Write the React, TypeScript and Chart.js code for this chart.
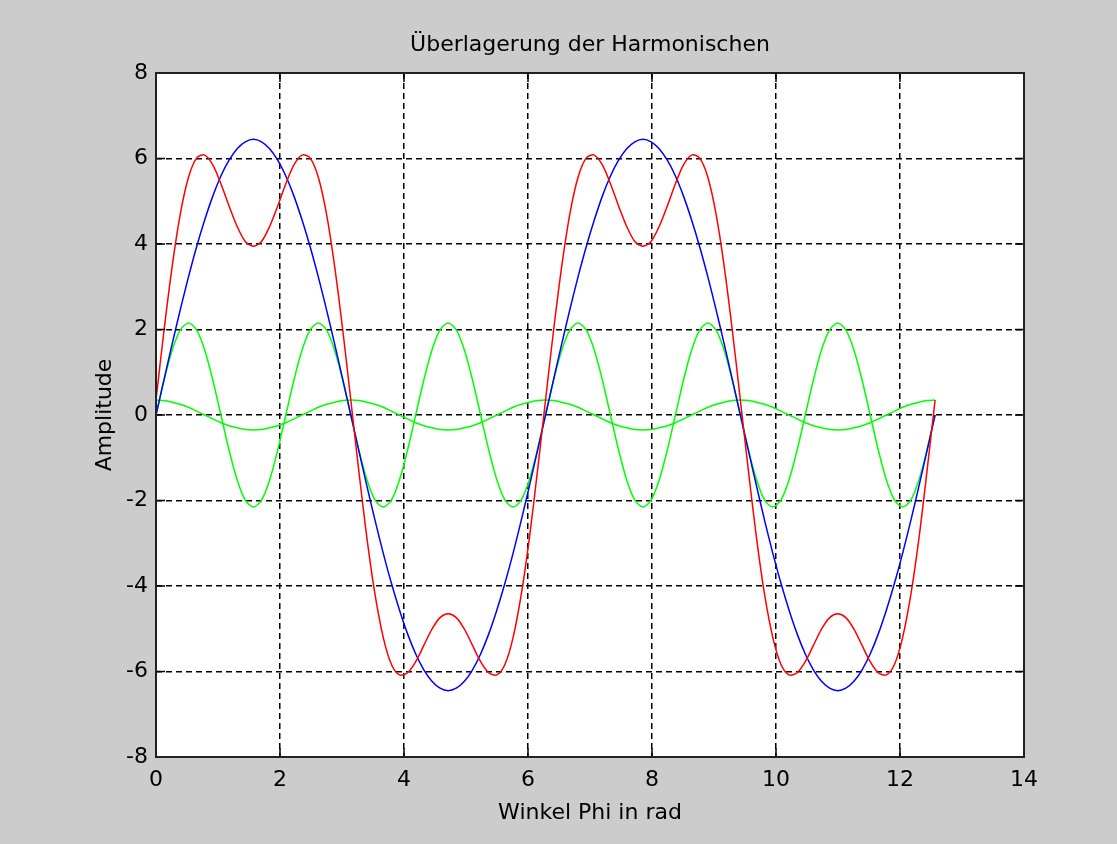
import React, { useEffect, useRef } from "react";
import { Chart, registerables } from "chart.js";

Chart.register(...registerables);

// Winkel Phi (rad)
const phi = [
  0, 0.131, 0.262, 0.393, 0.524, 0.654, 0.785, 0.916, 1.047, 1.178, 1.309, 1.44, 1.571, 1.702, 1.833, 1.963,
  2.094, 2.225, 2.356, 2.487, 2.618, 2.749, 2.88, 3.011, 3.142, 3.272, 3.403, 3.534, 3.665, 3.796, 3.927, 4.058,
  4.189, 4.32, 4.451, 4.581, 4.712, 4.843, 4.974, 5.105, 5.236, 5.367, 5.498, 5.629, 5.76, 5.89, 6.021, 6.152,
  6.283, 6.414, 6.545, 6.676, 6.807, 6.938, 7.069, 7.199, 7.33, 7.461, 7.592, 7.723, 7.854, 7.985, 8.116, 8.247,
  8.378, 8.508, 8.639, 8.77, 8.901, 9.032, 9.163, 9.294, 9.425, 9.556, 9.687, 9.817, 9.948, 10.079, 10.21, 10.341,
  10.472, 10.603, 10.734, 10.865, 10.996, 11.126, 11.257, 11.388, 11.519, 11.65, 11.781, 11.912, 12.043, 12.174,
  12.305, 12.435, 12.566,
];

// blue: Grundwelle
const grundwelle = [
  0, 0.84, 1.67, 2.47, 3.23, 3.93, 4.56, 5.12, 5.59, 5.96, 6.23, 6.39, 6.45, 6.39, 6.23, 5.96, 5.59, 5.12, 4.56, 3.93, 3.23, 2.47, 1.67, 0.84, 0,
  -0.84, -1.67, -2.47, -3.23, -3.93, -4.56, -5.12, -5.59, -5.96, -6.23, -6.39, -6.45, -6.39, -6.23, -5.96, -5.59, -5.12, -4.56, -3.93, -3.23, -2.47, -1.67, -0.84,
  0, 0.84, 1.67, 2.47, 3.23, 3.93, 4.56, 5.12, 5.59, 5.96, 6.23, 6.39, 6.45, 6.39, 6.23, 5.96, 5.59, 5.12, 4.56, 3.93, 3.23, 2.47, 1.67, 0.84, 0,
  -0.84, -1.67, -2.47, -3.23, -3.93, -4.56, -5.12, -5.59, -5.96, -6.23, -6.39, -6.45, -6.39, -6.23, -5.96, -5.59, -5.12, -4.56, -3.93, -3.23, -2.47, -1.67, -0.84,
  0,
];

// green: large harmonic
const harmonischeGross = [
  0, 0.82, 1.52, 1.99, 2.15, 1.99, 1.52, 0.82, 0, -0.82, -1.52, -1.99, -2.15, -1.99, -1.52, -0.82,
  0, 0.82, 1.52, 1.99, 2.15, 1.99, 1.52, 0.82, 0, -0.82, -1.52, -1.99, -2.15, -1.99, -1.52, -0.82,
  0, 0.82, 1.52, 1.99, 2.15, 1.99, 1.52, 0.82, 0, -0.82, -1.52, -1.99, -2.15, -1.99, -1.52, -0.82,
  0, 0.82, 1.52, 1.99, 2.15, 1.99, 1.52, 0.82, 0, -0.82, -1.52, -1.99, -2.15, -1.99, -1.52, -0.82,
  0, 0.82, 1.52, 1.99, 2.15, 1.99, 1.52, 0.82, 0, -0.82, -1.52, -1.99, -2.15, -1.99, -1.52, -0.82,
  0, 0.82, 1.52, 1.99, 2.15, 1.99, 1.52, 0.82, 0, -0.82, -1.52, -1.99, -2.15, -1.99, -1.52, -0.82,
  0,
];

// green: small harmonic
const harmonischeKlein = [
  0.35, 0.34, 0.3, 0.25, 0.18, 0.09, 0, -0.09, -0.18, -0.25, -0.3, -0.34, -0.35, -0.34, -0.3, -0.25, -0.18, -0.09, 0, 0.09, 0.18, 0.25, 0.3, 0.34,
  0.35, 0.34, 0.3, 0.25, 0.18, 0.09, 0, -0.09, -0.18, -0.25, -0.3, -0.34, -0.35, -0.34, -0.3, -0.25, -0.18, -0.09, 0, 0.09, 0.18, 0.25, 0.3, 0.34,
  0.35, 0.34, 0.3, 0.25, 0.18, 0.09, 0, -0.09, -0.18, -0.25, -0.3, -0.34, -0.35, -0.34, -0.3, -0.25, -0.18, -0.09, 0, 0.09, 0.18, 0.25, 0.3, 0.34,
  0.35, 0.34, 0.3, 0.25, 0.18, 0.09, 0, -0.09, -0.18, -0.25, -0.3, -0.34, -0.35, -0.34, -0.3, -0.25, -0.18, -0.09, 0, 0.09, 0.18, 0.25, 0.3, 0.34,
  0.35,
];

// red: Überlagerung (Summe)
const summe = [
  0.35, 2.0, 3.49, 4.71, 5.56, 6.01, 6.08, 5.85, 5.41, 4.89, 4.41, 4.06, 3.95, 4.06, 4.41, 4.89, 5.41, 5.85, 6.08, 6.01, 5.56, 4.71, 3.49, 2.0,
  0.35, -1.32, -2.89, -4.21, -5.2, -5.83, -6.08, -6.03, -5.77, -5.39, -5.01, -4.74, -4.65, -4.74, -5.01, -5.39, -5.77, -6.03, -6.08, -5.83, -5.2, -4.21, -2.89, -1.32,
  0.35, 2.0, 3.49, 4.71, 5.56, 6.01, 6.08, 5.85, 5.41, 4.89, 4.41, 4.06, 3.95, 4.06, 4.41, 4.89, 5.41, 5.85, 6.08, 6.01, 5.56, 4.71, 3.49, 2.0,
  0.35, -1.32, -2.89, -4.21, -5.2, -5.83, -6.08, -6.03, -5.77, -5.39, -5.01, -4.74, -4.65, -4.74, -5.01, -5.39, -5.77, -6.03, -6.08, -5.83, -5.2, -4.21, -2.89, -1.32,
  0.35,
];

const TITLE = "Überlagerung der Harmonischen";
const X_LABEL = "Winkel Phi in rad";
const Y_LABEL = "Amplitude";
const X_MIN = 0;
const X_MAX = 14;
const X_STEP = 2;
const Y_MIN = -8;
const Y_MAX = 8;
const Y_STEP = 2;

const FONT = "'DejaVu Sans', 'Liberation Sans', sans-serif";
const FONT_SIZE = 22;

const toPoints = (ys: number[]) => phi.map((x, i) => ({ x, y: ys[i] }));

const framePlugin = {
  id: "matlabFrame",
  beforeDraw(chart: any) {
    const { ctx, chartArea } = chart;
    const { left, top, right, bottom } = chartArea;
    ctx.save();
    ctx.fillStyle = "#cccccc";
    ctx.fillRect(0, 0, chart.width, chart.height);
    ctx.fillStyle = "#ffffff";
    ctx.fillRect(left, top, right - left, bottom - top);
    ctx.restore();
  },
  afterDraw(chart: any) {
    const { ctx, chartArea, scales } = chart;
    const { left, top, right, bottom } = chartArea;
    const len = 9;
    ctx.save();
    ctx.strokeStyle = "#000000";
    ctx.lineWidth = 1.5;
    ctx.setLineDash([]);
    ctx.beginPath();
    for (const t of scales.x.ticks) {
      const px = scales.x.getPixelForValue(t.value);
      ctx.moveTo(px, bottom);
      ctx.lineTo(px, bottom - len);
      ctx.moveTo(px, top);
      ctx.lineTo(px, top + len);
    }
    for (const t of scales.y.ticks) {
      const py = scales.y.getPixelForValue(t.value);
      ctx.moveTo(left, py);
      ctx.lineTo(left + len, py);
      ctx.moveTo(right, py);
      ctx.lineTo(right - len, py);
    }
    ctx.stroke();
    ctx.lineWidth = 2;
    ctx.strokeStyle = "#222222";
    ctx.strokeRect(left, top, right - left, bottom - top);
    // title, centred over the plot area
    ctx.fillStyle = "#000000";
    ctx.font = `normal ${FONT_SIZE}px ${FONT}`;
    ctx.textAlign = "center";
    ctx.textBaseline = "middle";
    ctx.fillText(TITLE, (left + right) / 2, top - 28);
    ctx.restore();
  },
};

export default function App() {
  const canvasRef = useRef<HTMLCanvasElement | null>(null);

  useEffect(() => {
    document.body.style.margin = "0";
    document.body.style.background = "#cccccc";
    const canvas = canvasRef.current;
    if (!canvas) return;
    const chart = new Chart(canvas, {
      type: "line",
      data: {
        datasets: [
          { label: "Summe", data: toPoints(summe), borderColor: "#ff0000" },
          { label: "Grundwelle", data: toPoints(grundwelle), borderColor: "#0000ff" },
          { label: "Harmonische 1", data: toPoints(harmonischeGross), borderColor: "#00ff00" },
          { label: "Harmonische 2", data: toPoints(harmonischeKlein), borderColor: "#00ff00" },
        ].map((d) => ({
          ...d,
          borderWidth: 1.5,
          pointRadius: 0,
          fill: false,
          tension: 0.3,
        })),
      },
      options: {
        animation: false,
        responsive: false,
        devicePixelRatio: 1,
        events: [],
        layout: { padding: { left: 0, right: 93, top: 73, bottom: 0 } },
        plugins: {
          legend: { display: false },
          tooltip: { enabled: false },
          title: { display: false },
        },
        scales: {
          x: {
            type: "linear",
            min: X_MIN,
            max: X_MAX,
            ticks: {
              stepSize: X_STEP,
              color: "#000000",
              font: { family: FONT, size: FONT_SIZE, lineHeight: 1 },
              padding: 12,
              maxRotation: 0,
            },
            grid: { color: "#000000", lineWidth: 1.5, drawTicks: false },
            border: { display: false, dash: [6, 4] },
            title: {
              display: true,
              text: X_LABEL,
              color: "#000000",
              font: { family: FONT, size: FONT_SIZE, lineHeight: 1 },
              padding: { top: 0, bottom: 20 },
            },
            afterFit: (s: any) => {
              s.height = 87;
            },
          },
          y: {
            type: "linear",
            min: Y_MIN,
            max: Y_MAX,
            ticks: {
              stepSize: Y_STEP,
              color: "#000000",
              font: { family: FONT, size: FONT_SIZE, lineHeight: 1 },
              padding: 8,
            },
            grid: { color: "#000000", lineWidth: 1.5, drawTicks: false },
            border: { display: false, dash: [6, 4] },
            title: {
              display: true,
              text: Y_LABEL,
              color: "#000000",
              font: { family: FONT, size: FONT_SIZE, lineHeight: 1 },
              padding: { top: 94, bottom: 0 },
            },
            afterFit: (s: any) => {
              s.width = 156;
            },
          },
        },
      },
      plugins: [framePlugin],
    } as any);
    return () => chart.destroy();
  }, []);

  return (
    <div style={{ width: 1117, height: 844, background: "#cccccc" }}>
      <canvas ref={canvasRef} width={1117} height={844} style={{ display: "block" }} />
    </div>
  );
}
